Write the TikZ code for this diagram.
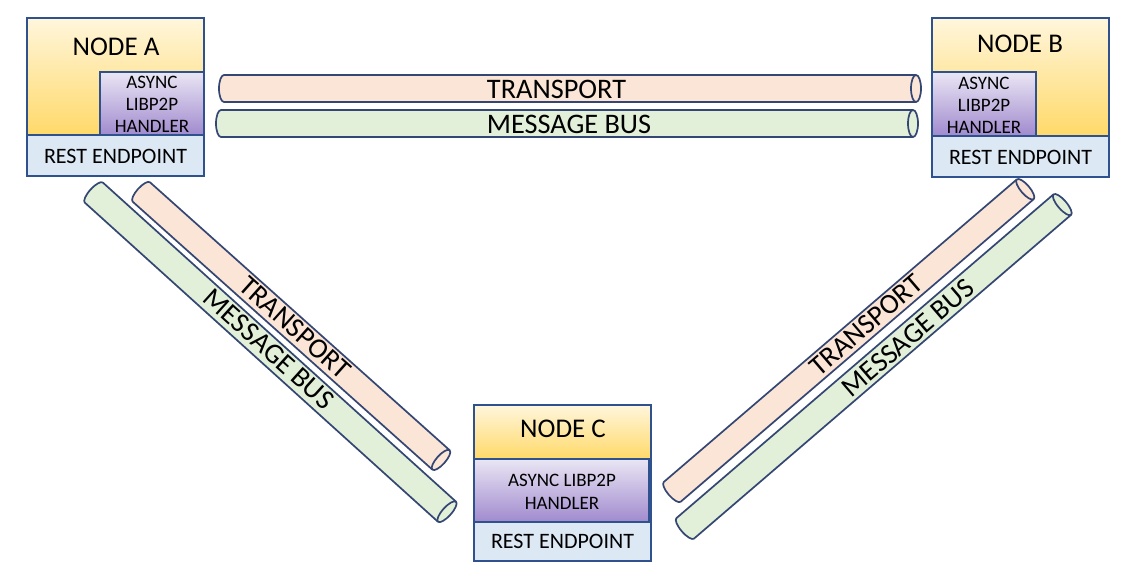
\documentclass[tikz,border=0pt]{standalone}
\usepackage{fontspec}
\setmainfont{Carlito}
\definecolor{bordercol}{RGB}{47,82,143}
\definecolor{tubecol}{RGB}{52,70,115}
\definecolor{trfill}{RGB}{251,229,214}
\definecolor{mbfill}{RGB}{226,240,217}
\definecolor{restfill}{RGB}{221,232,245}
\definecolor{ytop}{RGB}{255,246,220}
\definecolor{ybot}{RGB}{255,217,105}
\definecolor{ptop}{RGB}{234,230,244}
\definecolor{pmid}{RGB}{208,196,230}
\definecolor{pbot}{RGB}{160,138,206}
\newcommand{\tubeshape}[7]{% x, y, angle, length, radius, fill, cap
  \begin{scope}[shift={(#1,#2)}, rotate=#3]
    \pgfmathsetmacro{\tbL}{#4}\pgfmathsetmacro{\tbR}{#5}\pgfmathsetmacro{\tbA}{#7}
    \pgfmathsetmacro{\tbK}{0.5523*\tbA}\pgfmathsetmacro{\tbKr}{0.5523*\tbR}
    \path[tubeline, fill=#6] (\tbA,\tbR) .. controls ({\tbA-\tbK},\tbR) and (0,\tbKr) .. (0,0)
      .. controls (0,-\tbKr) and ({\tbA-\tbK},-\tbR) .. (\tbA,-\tbR)
      -- ({\tbL-\tbA},-\tbR) .. controls ({\tbL-\tbA+\tbK},-\tbR) and (\tbL,-\tbKr) .. (\tbL,0)
      .. controls (\tbL,\tbKr) and ({\tbL-\tbA+\tbK},\tbR) .. ({\tbL-\tbA},\tbR) -- cycle;
    \draw[tubeline] ({\tbL-\tbA},\tbR) .. controls ({\tbL-\tbA-\tbK},\tbR) and ({\tbL-2*\tbA},\tbKr) .. ({\tbL-2*\tbA},0)
      .. controls ({\tbL-2*\tbA},-\tbKr) and ({\tbL-\tbA-\tbK},-\tbR) .. ({\tbL-\tbA},-\tbR);
  \end{scope}}
\begin{document}
\begin{tikzpicture}[x=1pt,y=-1pt,
  boxline/.style={draw=bordercol, line width=1.9pt},
  rectbox/.style={rectangle, inner sep=0pt, outer sep=0pt, anchor=north west},
  ybox/.style={rectbox, top color=ytop, bottom color=ybot},
  pbox/.style={rectbox, boxline, top color=ptop, middle color=pmid, bottom color=pbot},
  rbox/.style={rectbox, boxline, fill=restfill},
  obox/.style={rectbox, boxline},
  tubeline/.style={draw=tubecol, line width=1.7pt, line join=round},
  titletext/.style={inner sep=0pt, font=\fontsize{27}{32}\selectfont},
  resttext/.style={inner sep=0pt, font=\fontsize{22}{26}\selectfont},
  asynctext/.style={inner sep=0pt, align=center, font=\fontsize{19}{22}\selectfont},
  tubetext/.style={inner sep=0pt, font=\fontsize{28.3}{32}\selectfont}]
\useasboundingbox (0,0) rectangle (1127,577);
\fill[white] (0,0) rectangle (1127,577);

% tubes
\tubeshape{219}{88.5}{0}{702}{13.5}{trfill}{5}
\tubeshape{216}{123.5}{0}{702}{13.5}{mbfill}{5}
\tubeshape{138}{189}{-41.8}{411}{13}{trfill}{4.5}
\tubeshape{90.5}{189.6}{-42.1}{485}{13.5}{mbfill}{4.5}
\tubeshape{668.8}{494.8}{40.6}{474}{13}{trfill}{4.5}
\tubeshape{681.8}{531.3}{40.65}{506}{13.5}{mbfill}{4.5}

\node[tubetext] (tAB) at (556.5,89) {TRANSPORT};
\node[tubetext] (mAB) at (569,124) {MESSAGE BUS};
\node[tubetext, rotate=-41.8] (tAC) at (295,328) {TRANSPORT};
\node[tubetext, rotate=-42.1] (mAC) at (269,349) {MESSAGE BUS};
\node[tubetext, rotate=40.6] (tBC) at (866,325) {TRANSPORT};
\node[tubetext, rotate=40.65] (mBC) at (908,338) {MESSAGE BUS};

% Node A
\node[ybox, minimum width=177pt, minimum height=117pt] (Ay) at (27,18) {};
\node[pbox, minimum width=104pt, minimum height=63pt] (Ap) at (100,72) {};
\node[rbox, minimum width=177pt, minimum height=41pt] (Ar) at (27,135) {};
\node[obox, minimum width=177pt, minimum height=158pt] (Ao) at (27,18) {};
\node[titletext] (At) at (116,47) {NODE A};
\node[asynctext] (Aa) at (152,104.5) {ASYNC\\LIBP2P\\HANDLER};
\node[resttext] (Ae) at (115.5,156.5) {REST ENDPOINT};

% Node B
\node[ybox, minimum width=177pt, minimum height=118pt] (By) at (932,18) {};
\node[pbox, minimum width=104pt, minimum height=64pt] (Bp) at (932,72) {};
\node[rbox, minimum width=177pt, minimum height=41pt] (Br) at (932,136) {};
\node[obox, minimum width=177pt, minimum height=159pt] (Bo) at (932,18) {};
\node[titletext] (Bt) at (1020,44) {NODE B};
\node[asynctext] (Ba) at (984,105.5) {ASYNC\\LIBP2P\\HANDLER};
\node[resttext] (Be) at (1020.5,157) {REST ENDPOINT};

% Node C
\node[ybox, minimum width=177pt, minimum height=54pt] (Cy) at (474,405) {};
\node[pbox, minimum width=175pt, minimum height=63pt] (Cp) at (474,459) {};
\node[rbox, minimum width=177pt, minimum height=39pt] (Cr) at (474,522) {};
\node[obox, minimum width=177pt, minimum height=156pt] (Co) at (474,405) {};
\node[titletext] (Ct) at (563,429) {NODE C};
\node[asynctext, font=\fontsize{19}{23}\selectfont] (Ca) at (562,491.5) {ASYNC LIBP2P\\HANDLER};
\node[resttext] (Ce) at (562.5,541.5) {REST ENDPOINT};
\end{tikzpicture}
\end{document}
